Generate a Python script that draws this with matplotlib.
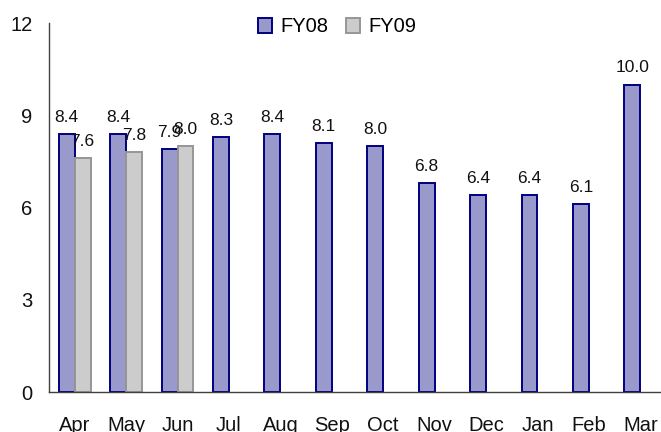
import matplotlib.pyplot as plt
import numpy as np

plt.rcParams['font.family'] = ['Liberation Sans', 'DejaVu Sans']

months = ['Apr', 'May', 'Jun', 'Jul', 'Aug', 'Sep', 'Oct', 'Nov', 'Dec', 'Jan', 'Feb', 'Mar']
fy08 = [8.4, 8.4, 7.9, 8.3, 8.4, 8.1, 8.0, 6.8, 6.4, 6.4, 6.1, 10.0]
fy09 = [7.6, 7.8, 8.0]
yticks = [0, 3, 6, 9, 12]

fig = plt.figure(figsize=(6.61, 4.32), dpi=100)
# axes runs a bit past the right edge, like the original
ax = fig.add_axes([49 / 661, 40 / 432, 617 / 661, 369 / 432])

x = np.arange(len(months))
w = 0.31

b1 = ax.bar(x - w / 2, fy08, width=w, color='#9999CC', edgecolor='#000080',
            linewidth=1.4, label='FY08', zorder=2)
b2 = ax.bar(x[:len(fy09)] + w / 2, fy09, width=w, color='#CCCCCC', edgecolor='#969696',
            linewidth=1.4, label='FY09', zorder=2)

for bars, vals in ((b1, fy08), (b2, fy09)):
    for b, v in zip(bars, vals):
        ax.annotate(f'{v:.1f}', (b.get_x() + b.get_width() / 2, v),
                    xytext=(0, 6.5), textcoords='offset points',
                    ha='center', va='bottom', fontsize=12.5, color='#111111')

ax.set_xlim(-0.5, len(months) - 0.5)
ax.set_ylim(0, 12)
ax.set_yticks(yticks)
ax.set_xticks(x)
ax.set_xticklabels(months)
ax.tick_params(axis='both', length=0, labelsize=14.5, colors='#111111')
ax.tick_params(axis='y', pad=12)
ax.tick_params(axis='x', pad=17.5)

for s in ('top', 'right'):
    ax.spines[s].set_visible(False)
for s in ('left', 'bottom'):
    ax.spines[s].set_color('#404040')
    ax.spines[s].set_linewidth(1.0)

fig.legend(handles=[b1, b2], labels=['FY08', 'FY09'], loc='center',
           bbox_to_anchor=(337 / 661, 1 - 27 / 432), ncol=2, frameon=False,
           fontsize=14.5, handlelength=0.7, handleheight=0.7,
           handletextpad=0.4, columnspacing=0.9, borderpad=0)

fig.savefig('out.png', dpi=100)
